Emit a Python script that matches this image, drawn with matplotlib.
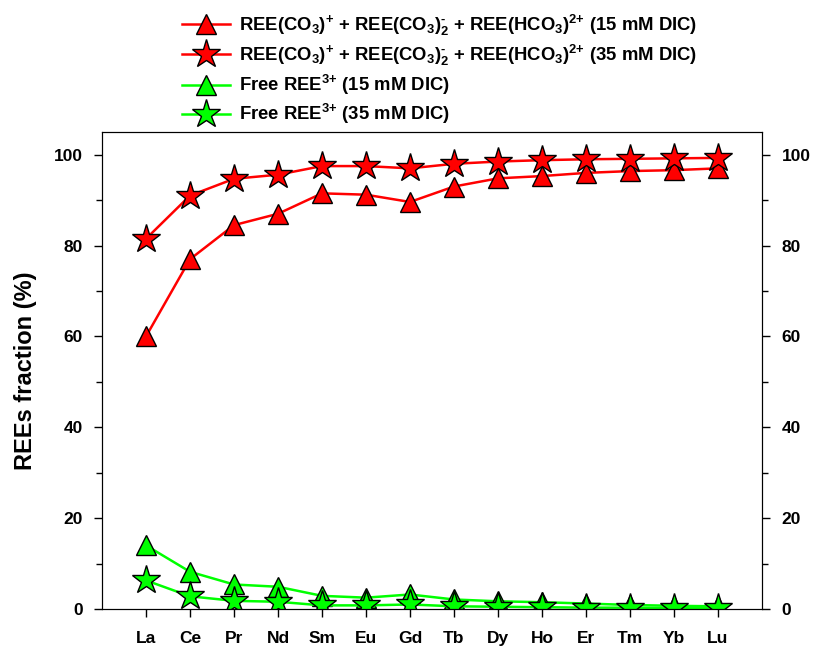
import numpy as np
import matplotlib
matplotlib.use("Agg")
import matplotlib.pyplot as plt
from matplotlib.ticker import MultipleLocator

plt.rcParams['font.family'] = 'Liberation Sans'
plt.rcParams['font.weight'] = 'bold'
plt.rcParams['mathtext.fontset'] = 'custom'
plt.rcParams['mathtext.rm'] = 'Liberation Sans:bold'
plt.rcParams['mathtext.bf'] = 'Liberation Sans:bold'
plt.rcParams['mathtext.default'] = 'bf'

# elements (x axis)
elements = ["La", "Ce", "Pr", "Nd", "Sm", "Eu", "Gd", "Tb", "Dy", "Ho", "Er", "Tm", "Yb", "Lu"]

# carbonate complexes fraction (%)
complex_15 = [60.0, 77.0, 84.5, 87.0, 91.5, 91.2, 89.6, 93.0, 94.8, 95.3, 96.0, 96.4, 96.6, 97.0]
complex_35 = [81.5, 91.0, 94.7, 95.6, 97.5, 97.5, 97.0, 98.0, 98.5, 98.8, 99.0, 99.1, 99.2, 99.3]
# free REE3+ fraction (%)
free_15 = [14.0, 8.2, 5.4, 4.9, 2.9, 2.5, 3.2, 2.1, 1.7, 1.5, 1.2, 0.9, 0.7, 0.6]
free_35 = [6.3, 2.8, 1.8, 1.6, 0.8, 0.8, 1.0, 0.6, 0.5, 0.4, 0.3, 0.3, 0.2, 0.2]

labels = [
    r"REE(CO$_{3}$)$^{{+}}$ + REE(CO$_{3}$)$_{2}^{\text{-}}$ + REE(HCO$_{3}$)$^{2{+}}$ (15 mM DIC)",
    r"REE(CO$_{3}$)$^{{+}}$ + REE(CO$_{3}$)$_{2}^{\text{-}}$ + REE(HCO$_{3}$)$^{2{+}}$ (35 mM DIC)",
    r"Free REE$^{3{+}}$ (15 mM DIC)",
    r"Free REE$^{3{+}}$ (35 mM DIC)",
]

x = np.arange(1, len(elements) + 1)

fig = plt.figure(figsize=(8.18, 6.49), dpi=100)
ax = fig.add_axes([0.1247, 0.0616, 0.8068, 0.735])

red = "#ff0000"
green = "#00ff00"
h1, = ax.plot(x, complex_15, color=red, lw=1.8, marker="^", ms=15, mfc=red, mec="k", mew=1.0)
h2, = ax.plot(x, complex_35, color=red, lw=1.8, marker="*", ms=21, mfc=red, mec="k", mew=1.0)
h3, = ax.plot(x, free_15, color=green, lw=1.8, marker="^", ms=15, mfc=green, mec="k", mew=1.0)
h4, = ax.plot(x, free_35, color=green, lw=1.8, marker="*", ms=21, mfc=green, mec="k", mew=1.0)

ax.set_xlim(0, 15)
ax.set_ylim(0, 105)
ax.set_xticks(x)
ax.set_xticklabels(elements)
ax.set_yticks([0, 20, 40, 60, 80, 100])
ax.yaxis.set_minor_locator(MultipleLocator(10))
ax.tick_params(axis="both", which="major", direction="out", length=6, width=1, labelsize=12.5, pad=8)
ax.tick_params(axis="x", which="major", pad=10)
ax.tick_params(axis="y", which="minor", direction="out", length=4, width=1)
ax.set_ylabel("REEs fraction (%)", fontsize=17, fontweight="bold", labelpad=12)

ax2 = ax.twinx()
ax2.set_ylim(0, 105)
ax2.set_yticks([0, 20, 40, 60, 80, 100])
ax2.yaxis.set_minor_locator(MultipleLocator(10))
ax2.tick_params(axis="y", which="major", direction="out", length=6, width=1, labelsize=12.5, pad=8)
ax2.tick_params(axis="y", which="minor", direction="out", length=4, width=1)

fig.legend([h1, h2, h3, h4], labels, loc="upper left", bbox_to_anchor=(0.213, 0.992),
           frameon=False, fontsize=13.3, handlelength=2.6, handletextpad=0.5,
           labelspacing=0.28, borderaxespad=0)

fig.savefig("out.png", dpi=100)
